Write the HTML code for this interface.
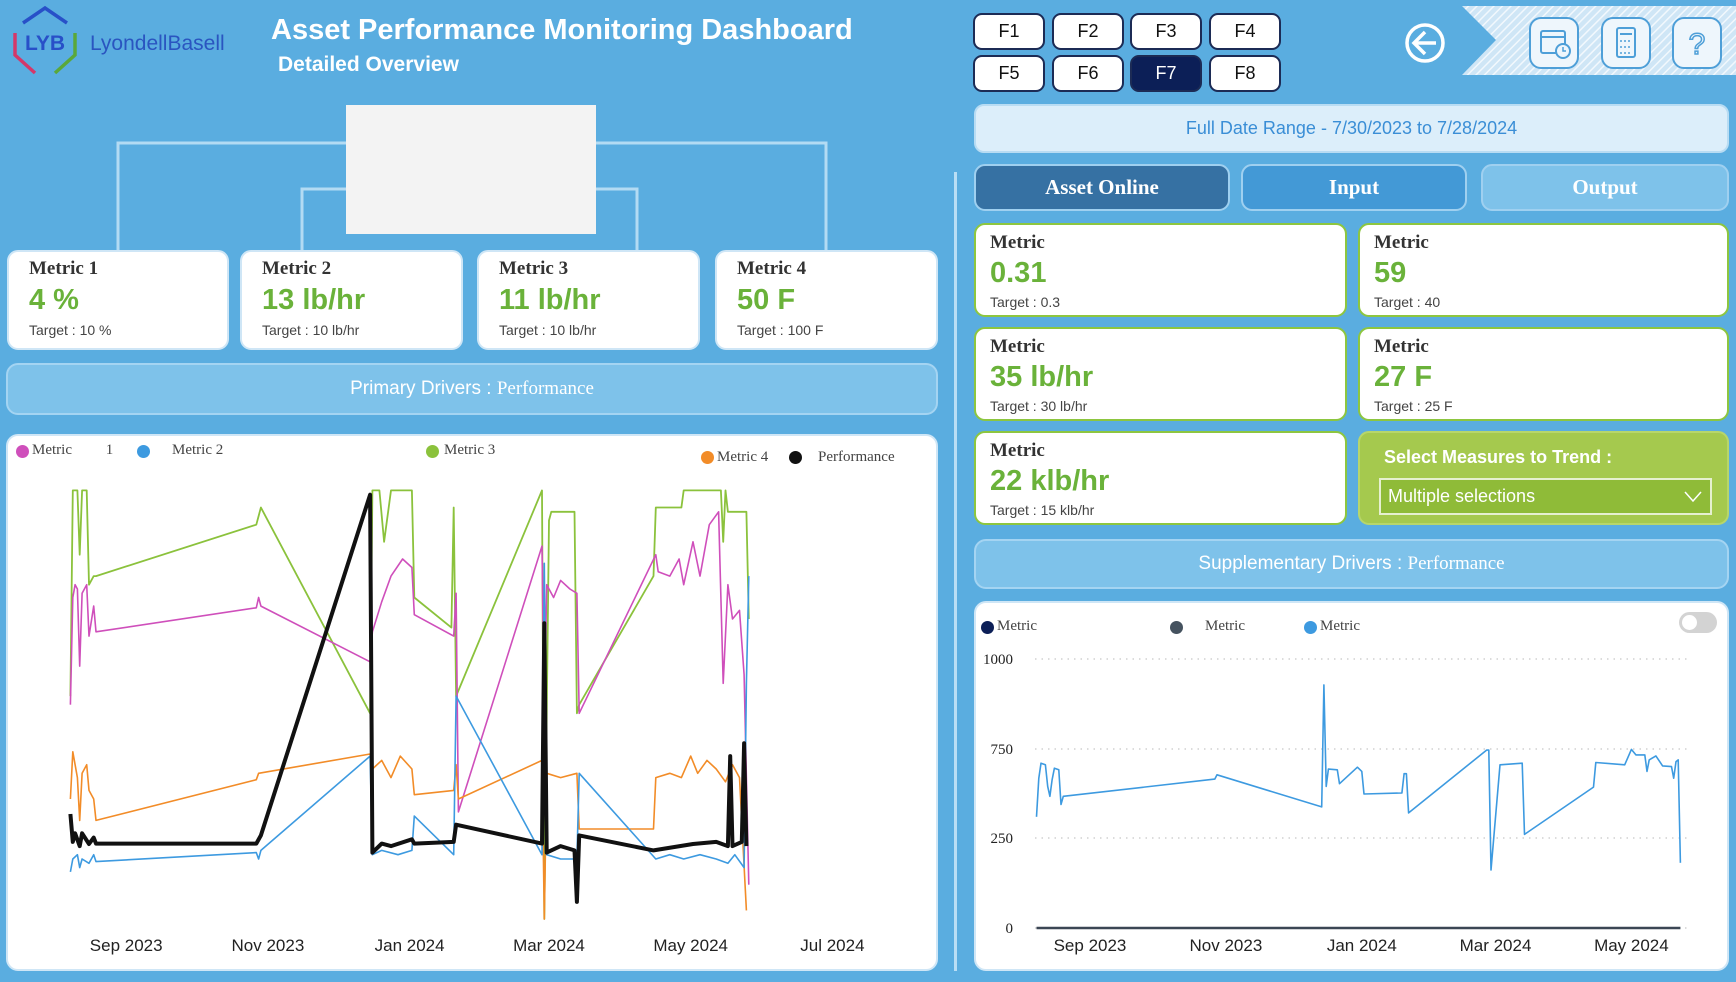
<!DOCTYPE html>
<html><head><meta charset="utf-8">
<style>
*{box-sizing:border-box;margin:0;padding:0}
body{width:1736px;height:982px;background:#5aade0;position:relative;overflow:hidden;font-family:"Liberation Sans",sans-serif}
.abs{position:absolute}
.card{position:absolute;background:#fff;border-radius:11px;border:2px solid #cfe6f6}
.ct{position:absolute;left:20px;top:6px;font-family:"Liberation Serif",serif;font-weight:bold;font-size:19px;color:#333}
.cv{position:absolute;left:20px;top:32px;font-weight:bold;font-size:29px;color:#6ab23a}
.cg{position:absolute;left:20px;top:70px;font-size:14px;color:#444}
.kc{position:absolute;background:#fff;border-radius:11px;border:2px solid #8dc63f}
.kc .ct{left:14px;top:7px}.kc .cv{left:14px;top:32px}.kc .cg{left:14px;top:69px}
.fb{position:absolute;width:72px;height:37px;background:#fff;border:2px solid #1c2b55;border-radius:9px;font-size:18px;color:#111;text-align:center;line-height:33px}
.banner{position:absolute;background:#7ec2ea;border:2px solid #a4d4f2;border-radius:12px;color:#fff;text-align:center;font-size:19px}
.tab{position:absolute;top:164px;height:47px;border-radius:11px;border:2px solid #9fd0f0;color:#fff;font-family:"Liberation Serif",serif;font-weight:bold;font-size:21px;text-align:center;line-height:42px}
.ib{position:absolute;top:17px;width:50px;height:52px;border-radius:12px;background:#eef6fc;border:2px solid #4e9fd8}
.lg{position:absolute;font-family:"Liberation Serif",serif;font-size:15px;color:#444}
.dot{position:absolute;width:13px;height:13px;border-radius:50%}
</style></head><body>

<svg class="abs" style="left:10px;top:5px" width="70" height="72">
<polyline points="13,18 35,3 57,18" fill="none" stroke="#2850c8" stroke-width="3.5"/>
<polyline points="5,28 5,50 25,68" fill="none" stroke="#d4386a" stroke-width="3.5"/>
<polyline points="65,28 65,50 45,68" fill="none" stroke="#5aa83a" stroke-width="3.5"/>
<text x="35" y="45" text-anchor="middle" font-family="Liberation Sans" font-weight="bold" font-size="21" fill="#2850c8">LYB</text>
</svg>
<div class="abs" style="left:90px;top:32px;font-size:21px;color:#2a55c0">LyondellBasell</div>
<div class="abs" style="left:271px;top:14px;font-size:29px;font-weight:bold;color:#fff">Asset Performance Monitoring Dashboard</div>
<div class="abs" style="left:278px;top:53px;font-size:21px;font-weight:bold;color:#fff">Detailed Overview</div>

<svg class="abs" style="left:0;top:0" width="955" height="260">
<polyline points="118,252 118,143 826,143 826,252" fill="none" stroke="#b3dbf3" stroke-width="3"/>
<polyline points="302,252 302,189 637,189 637,252" fill="none" stroke="#b3dbf3" stroke-width="3"/>
</svg>
<div class="abs" style="left:346px;top:105px;width:250px;height:129px;background:#f3f3f3"></div>

<div class="card" style="left:7px;top:250px;width:222px;height:100px"><div class="ct">Metric 1</div><div class="cv">4 %</div><div class="cg">Target : 10 %</div></div>
<div class="card" style="left:240px;top:250px;width:223px;height:100px"><div class="ct">Metric 2</div><div class="cv">13 lb/hr</div><div class="cg">Target : 10 lb/hr</div></div>
<div class="card" style="left:477px;top:250px;width:223px;height:100px"><div class="ct">Metric 3</div><div class="cv">11 lb/hr</div><div class="cg">Target : 10 lb/hr</div></div>
<div class="card" style="left:715px;top:250px;width:223px;height:100px"><div class="ct">Metric 4</div><div class="cv">50 F</div><div class="cg">Target : 100 F</div></div>

<div class="banner" style="left:6px;top:363px;width:932px;height:52px;line-height:48px">Primary Drivers : <span style="font-family:'Liberation Serif',serif">Performance</span></div>

<div class="card" style="left:6px;top:434px;width:932px;height:537px;border-radius:12px"></div>
<div class="dot" style="left:16px;top:445px;background:#cf4fbb"></div>
<div class="lg" style="left:32px;top:442px">Metric &nbsp;&nbsp;&nbsp;&nbsp;&nbsp;&nbsp;&nbsp; 1</div>
<div class="dot" style="left:137px;top:445px;background:#3d9ae0"></div>
<div class="lg" style="left:172px;top:442px">Metric 2</div>
<div class="dot" style="left:426px;top:445px;background:#8bc23c"></div>
<div class="lg" style="left:444px;top:442px">Metric 3</div>
<div class="dot" style="left:701px;top:451px;background:#f28c28"></div>
<div class="lg" style="left:717px;top:449px">Metric 4</div>
<div class="dot" style="left:789px;top:451px;background:#111"></div>
<div class="lg" style="left:818px;top:449px">Performance</div>
<svg id="c1" class="abs" style="left:0;top:0" width="955" height="982"></svg>

<div class="abs" style="left:954px;top:172px;width:3px;height:799px;background:#b9def5"></div>

<div class="fb" style="left:973px;top:13px">F1</div>
<div class="fb" style="left:1052px;top:13px">F2</div>
<div class="fb" style="left:1130px;top:13px">F3</div>
<div class="fb" style="left:1209px;top:13px">F4</div>
<div class="fb" style="left:973px;top:55px">F5</div>
<div class="fb" style="left:1052px;top:55px">F6</div>
<div class="fb" style="left:1130px;top:55px;background:#0c1f57;color:#fff">F7</div>
<div class="fb" style="left:1209px;top:55px">F8</div>

<svg class="abs" style="left:1404px;top:22px" width="42" height="42">
<circle cx="21" cy="21" r="18" fill="none" stroke="#fff" stroke-width="3.5"/>
<polyline points="21,10 10,21 21,32" fill="none" stroke="#fff" stroke-width="3.5"/>
<line x1="10" y1="21" x2="32" y2="21" stroke="#fff" stroke-width="3.5"/>
</svg>
<svg class="abs" style="left:1460px;top:5px" width="276" height="72">
<defs><pattern id="hp" width="6" height="6" patternUnits="userSpaceOnUse" patternTransform="rotate(45)"><rect width="6" height="6" fill="#cfe6f6"/><line x1="0" y1="0" x2="0" y2="6" stroke="#f2f8fd" stroke-width="3"/></pattern></defs>
<polygon points="2,1 276,1 276,70 2,70 36,35" fill="url(#hp)"/>
</svg>
<div class="ib" style="left:1529px"><svg width="46" height="48"><rect x="10" y="12" width="24" height="22" rx="2" fill="none" stroke="#4e9fd8" stroke-width="2"/><line x1="10" y1="18" x2="34" y2="18" stroke="#4e9fd8" stroke-width="2"/><circle cx="32" cy="32" r="7" fill="#eef6fc" stroke="#4e9fd8" stroke-width="2"/><polyline points="32,28 32,32 35,32" fill="none" stroke="#4e9fd8" stroke-width="1.5"/></svg></div>
<div class="ib" style="left:1601px"><svg width="46" height="48"><rect x="14" y="9" width="18" height="29" rx="2" fill="none" stroke="#4e9fd8" stroke-width="2"/><line x1="17" y1="15" x2="29" y2="15" stroke="#4e9fd8" stroke-width="2"/><line x1="17" y1="22" x2="29" y2="22" stroke="#4e9fd8" stroke-width="1.5" stroke-dasharray="2,2"/><line x1="17" y1="28" x2="29" y2="28" stroke="#4e9fd8" stroke-width="1.5" stroke-dasharray="2,2"/><line x1="17" y1="34" x2="29" y2="34" stroke="#4e9fd8" stroke-width="1.5" stroke-dasharray="2,2"/></svg></div>
<div class="ib" style="left:1672px"><svg width="46" height="48"><text x="23" y="35" text-anchor="middle" font-family="Liberation Sans" font-size="30" fill="none" stroke="#4e9fd8" stroke-width="1.5">?</text></svg></div>

<div class="abs" style="left:974px;top:104px;width:755px;height:49px;background:#dceefa;border:2px solid #b8dcf3;border-radius:10px;color:#3a8ed6;font-size:18px;text-align:center;line-height:45px">Full Date Range - 7/30/2023 to 7/28/2024</div>

<div class="tab" style="left:974px;width:256px;background:#3671a3">Asset Online</div>
<div class="tab" style="left:1241px;width:226px;background:#4399d6">Input</div>
<div class="tab" style="left:1481px;width:248px;background:#7ec2ea">Output</div>

<div class="kc" style="left:974px;top:223px;width:373px;height:94px"><div class="ct">Metric</div><div class="cv">0.31</div><div class="cg">Target : 0.3</div></div>
<div class="kc" style="left:1358px;top:223px;width:371px;height:94px"><div class="ct">Metric</div><div class="cv">59</div><div class="cg">Target : 40</div></div>
<div class="kc" style="left:974px;top:327px;width:373px;height:94px"><div class="ct">Metric</div><div class="cv">35 lb/hr</div><div class="cg">Target : 30 lb/hr</div></div>
<div class="kc" style="left:1358px;top:327px;width:371px;height:94px"><div class="ct">Metric</div><div class="cv">27 F</div><div class="cg">Target : 25 F</div></div>
<div class="kc" style="left:974px;top:431px;width:373px;height:94px"><div class="ct">Metric</div><div class="cv">22 klb/hr</div><div class="cg">Target : 15 klb/hr</div></div>
<div class="abs" style="left:1358px;top:431px;width:371px;height:94px;background:#a5c94e;border:2px solid #b7d66a;border-radius:11px">
<div class="abs" style="left:24px;top:14px;color:#fff;font-weight:bold;font-size:18px">Select Measures to Trend :</div>
<div class="abs" style="left:19px;top:45px;width:333px;height:37px;background:#8fbb38;border:2px solid #e6f0d0;color:#fff;font-size:18px;line-height:33px;padding-left:7px">Multiple selections<svg class="abs" style="right:8px;top:11px" width="18" height="12"><polyline points="1,1 9,10 17,1" fill="none" stroke="#fff" stroke-width="1.5"/></svg></div>
</div>

<div class="banner" style="left:974px;top:539px;width:755px;height:50px;line-height:46px">Supplementary Drivers : <span style="font-family:'Liberation Serif',serif">Performance</span></div>

<div class="card" style="left:974px;top:601px;width:755px;height:370px;border-radius:12px"></div>
<div class="dot" style="left:981px;top:621px;background:#0c1f57"></div>
<div class="lg" style="left:997px;top:618px">Metric</div>
<div class="dot" style="left:1170px;top:621px;background:#45525f"></div>
<div class="lg" style="left:1205px;top:618px">Metric</div>
<div class="dot" style="left:1304px;top:621px;background:#3d9ae0"></div>
<div class="lg" style="left:1320px;top:618px">Metric</div>
<div class="abs" style="left:1679px;top:612px;width:38px;height:21px;border-radius:11px;background:#d3d3d3"><div class="abs" style="left:3px;top:3px;width:15px;height:15px;border-radius:50%;background:#fff"></div></div>
<svg id="c2" class="abs" style="left:0;top:0" width="1736" height="982"></svg>

<script>
// ---- Chart 1 data ----
const c1Ticks = ["2023-09-01","2023-11-01","2024-01-01","2024-03-01","2024-05-01","2024-07-01"];
const c1TickLabels = ["Sep 2023","Nov 2023","Jan 2024","Mar 2024","May 2024","Jul 2024"];
const m1Dates = ["2023-08-08","2023-08-09","2023-08-10","2023-08-11","2023-08-12","2023-08-13","2023-08-15","2023-08-16","2023-08-18","2023-08-19","2023-10-27","2023-10-28","2023-10-29","2023-12-15","2023-12-16","2023-12-20","2023-12-24","2023-12-29","2024-01-02","2024-01-03","2024-01-20","2024-01-21","2024-01-22","2024-02-27","2024-02-28","2024-02-29","2024-03-03","2024-03-06","2024-03-10","2024-03-13","2024-03-14","2024-04-16","2024-04-17","2024-04-22","2024-04-26","2024-04-28","2024-05-02","2024-05-05","2024-05-09","2024-05-13","2024-05-15","2024-05-17","2024-05-19","2024-05-22","2024-05-24","2024-05-26"];
const m1Values = [50,75,78,77,59,76,78,66,73,67,72.6,75,73,60,67,74,80,84,82,71,66,76,25,87,46,78,75,79,77,76,48,85,81,80,84,78,88,80,92,95,55,78,70,72,57,8];
const m2Dates = ["2023-08-08","2023-08-09","2023-08-11","2023-08-12","2023-08-13","2023-08-16","2023-08-18","2023-08-19","2023-10-27","2023-10-28","2023-10-29","2023-12-15","2023-12-16","2023-12-20","2023-12-27","2024-01-02","2024-01-03","2024-01-20","2024-01-21","2024-02-27","2024-02-28","2024-02-29","2024-03-06","2024-03-13","2024-03-14","2024-04-16","2024-04-22","2024-04-28","2024-05-05","2024-05-12","2024-05-17","2024-05-20","2024-05-24","2024-05-25","2024-05-26"];
const m2Values = [11,14,15,12,14,13,15,13.4,15.5,14,16,38,15,16,15,16,24,15,52,15,83,15,14,14,34,14,15,14,15,14,13,15,12,55,80];
const m3Dates = ["2023-08-08","2023-08-09","2023-08-11","2023-08-12","2023-08-13","2023-08-15","2023-08-16","2023-08-18","2023-08-19","2023-10-27","2023-10-29","2023-12-15","2023-12-16","2023-12-19","2023-12-21","2023-12-24","2023-12-27","2024-01-02","2024-01-03","2024-01-19","2024-01-20","2024-01-21","2024-02-27","2024-02-28","2024-03-01","2024-03-02","2024-03-05","2024-03-12","2024-03-13","2024-03-14","2024-04-15","2024-04-16","2024-04-27","2024-04-28","2024-05-14","2024-05-15","2024-05-16","2024-05-17","2024-05-20","2024-05-25","2024-05-26"];
const m3Values = [52,100,100,85,100,100,78,80,80,92,96,48,100,100,88,100,100,100,75,68,96,52,100,0,93,95,95,95,48,50,80,96,96,100,100,88,100,95,95,95,70];
const m4Dates = ["2023-08-08","2023-08-09","2023-08-10","2023-08-11","2023-08-12","2023-08-13","2023-08-15","2023-08-16","2023-08-18","2023-08-19","2023-10-27","2023-10-28","2023-12-15","2023-12-16","2023-12-20","2023-12-24","2023-12-28","2024-01-02","2024-01-03","2024-01-20","2024-01-21","2024-01-22","2024-02-27","2024-02-28","2024-02-29","2024-03-06","2024-03-13","2024-03-14","2024-04-15","2024-04-16","2024-04-22","2024-04-27","2024-05-01","2024-05-04","2024-05-08","2024-05-12","2024-05-16","2024-05-19","2024-05-22","2024-05-25"];
const m4Values = [28,39,36,33,23,34,36,30,28,23,32.5,34,38.5,35,37,33,38,35,29,30,36,28,37,0,34,33,34,21,21,33,34,33,38,34,37,35,32,36,33,2];
const perfDates = ["2023-08-08","2023-08-09","2023-08-10","2023-08-12","2023-08-13","2023-08-16","2023-08-18","2023-08-19","2023-10-27","2023-10-29","2023-12-15","2023-12-16","2023-12-20","2023-12-24","2024-01-02","2024-01-03","2024-01-20","2024-01-21","2024-02-27","2024-02-28","2024-02-29","2024-03-06","2024-03-12","2024-03-13","2024-03-14","2024-04-15","2024-05-02","2024-05-12","2024-05-17","2024-05-18","2024-05-19","2024-05-23","2024-05-24","2024-05-25"];
const perfValues = [24.5,18,20,17,20,17.5,19,17.6,17.6,19.5,99,15.5,17.6,17,18.6,17.6,18,22,17.6,69,15.5,17,16,4,19.5,16,17.5,18,17,38,17,18,41,17];

// ---- Chart 2 data ----
const c2Ticks = ["2023-09-01","2023-11-01","2024-01-01","2024-03-01","2024-05-01"];
const c2TickLabels = ["Sep 2023","Nov 2023","Jan 2024","Mar 2024","May 2024"];
const c2YTicks = [0,250,750,1000];
const c2YLabels = ["0","250","750","1000"];
const supDates = ["2023-08-08","2023-08-09","2023-08-10","2023-08-12","2023-08-13","2023-08-14","2023-08-15","2023-08-16","2023-08-18","2023-08-19","2023-08-20","2023-10-27","2023-10-28","2023-12-14","2023-12-15","2023-12-16","2023-12-17","2023-12-21","2023-12-22","2023-12-30","2024-01-01","2024-01-02","2024-01-19","2024-01-20","2024-01-21","2024-01-22","2024-02-26","2024-02-27","2024-02-28","2024-03-03","2024-03-13","2024-03-14","2024-04-14","2024-04-15","2024-04-28","2024-05-01","2024-05-03","2024-05-07","2024-05-08","2024-05-09","2024-05-12","2024-05-15","2024-05-19","2024-05-20","2024-05-21","2024-05-22","2024-05-23"];
const supValues = [369,586,670,661,540,484,577,642,633,438,484,581,605,425,928,540,637,633,555,648,624,497,503,611,611,391,744,744,161,661,670,270,536,674,661,748,717,717,624,689,711,655,651,586,679,689,181];

const NS="http://www.w3.org/2000/svg";
const DAY=86400000;
function dayNum(s){return (Date.parse(s+"T00:00:00Z")-Date.parse("2023-09-01T00:00:00Z"))/DAY;}
function mk(svg,tag,attrs){const e=document.createElementNS(NS,tag);for(const k in attrs)e.setAttribute(k,attrs[k]);svg.appendChild(e);return e;}

// Chart 1 axes
const c1 = document.getElementById('c1');
const x1 = d => 126.2 + dayNum(d)*2.323;
const y1 = v => 919 - v*4.286;
c1Ticks.forEach((t,i)=>{
  const tx=mk(c1,'text',{x:x1(t),y:951,'text-anchor':'middle','font-family':'Liberation Sans','font-size':17,fill:'#222'});
  tx.textContent=c1TickLabels[i];
  
  
});
function line1(dates,vals,color,w,name){
  const d=dates.map((t,i)=>(i?'L':'M')+x1(t).toFixed(1)+','+y1(vals[i]).toFixed(1)).join('');
  const p=mk(c1,'path',{d:d,fill:'none',stroke:color,'stroke-width':w,'stroke-linejoin':'round'});
  
  
}
line1(m3Dates,m3Values,'#8bc23c',1.8,'metric-3-line');
line1(m1Dates,m1Values,'#cf4fbb',1.6,'metric-1-line');
line1(m4Dates,m4Values,'#f28c28',1.6,'metric-4-line');
line1(m2Dates,m2Values,'#3d9ae0',1.6,'metric-2-line');
line1(perfDates,perfValues,'#111',4,'performance-line');

// Chart 2 axes
const c2 = document.getElementById('c2');
const x2 = d => 1090 + dayNum(d)*2.228;
const yPix = [928,838,749,659];
function y2(v){
  for(let i=0;i<c2YTicks.length-1;i++){
    const a=c2YTicks[i],b=c2YTicks[i+1];
    if(v<=b||i===c2YTicks.length-2){return yPix[i]+(v-a)/(b-a)*(yPix[i+1]-yPix[i]);}
  }
}
c2YTicks.forEach((t,i)=>{
  const g=mk(c2,'line',{x1:1035,x2:1690,y1:y2(t),y2:y2(t),stroke:'#c8c8c8','stroke-width':1.2,'stroke-dasharray':'1.5,5'});
  
  
  const tx=mk(c2,'text',{x:1013,y:y2(t)+5,'text-anchor':'end','font-family':'Liberation Serif','font-size':15,fill:'#222'});
  tx.textContent=c2YLabels[i];
  
  
});
const base=mk(c2,'line',{x1:x2(supDates[0]),x2:x2(supDates[supDates.length-1]),y1:y2(0),y2:y2(0),stroke:'#3b4654','stroke-width':2.5});


c2Ticks.forEach((t,i)=>{
  const tx=mk(c2,'text',{x:x2(t),y:951,'text-anchor':'middle','font-family':'Liberation Sans','font-size':17,fill:'#222'});
  tx.textContent=c2TickLabels[i];
  
  
});
const sp=mk(c2,'path',{d:supDates.map((t,i)=>(i?'L':'M')+x2(t).toFixed(1)+','+y2(supValues[i]).toFixed(1)).join(''),fill:'none',stroke:'#3d9ae0','stroke-width':1.6,'stroke-linejoin':'round'});


</script>
</body></html>
